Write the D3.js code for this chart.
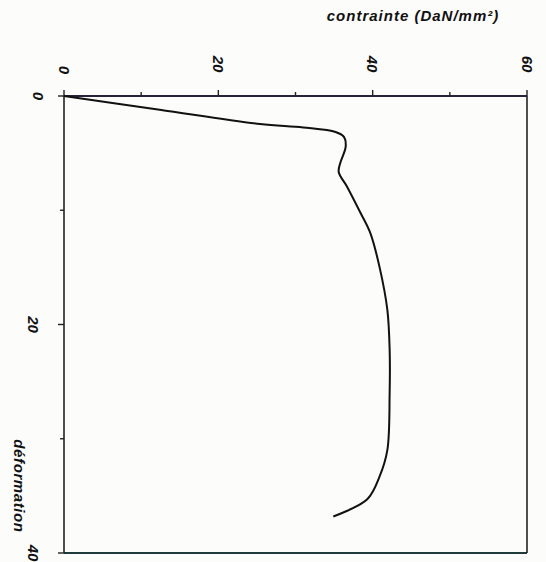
<!DOCTYPE html>
<html>
<head>
<meta charset="utf-8">
<script src="https://cdn.jsdelivr.net/npm/d3@7/dist/d3.min.js"></script>
<style>
  html, body { margin: 0; padding: 0; background: #fcfcfb; }
  svg { display: block; }
  .lbl { font-family: "Liberation Sans", Arial, sans-serif; font-weight: bold; font-style: italic; fill: #111; }
</style>
</head>
<body>
<div id="chart"></div>
<script>
// stress (DaN/mm²) vs strain
const contrainte = [0, 12.4, 25.4, 31.0, 35.2, 36.3, 36.5, 35.8, 35.6, 36.7, 38.4, 39.7, 40.9, 41.9, 42.2, 42.2, 41.9, 40.9, 39.3, 34.9];
const deformation = [0, 1.2, 2.45, 2.75, 3.15, 3.6, 4.46, 5.86, 6.65, 7.96, 10.2, 12.0, 15.0, 18.7, 22.2, 26.0, 31.0, 33.3, 35.3, 36.8];
const xMajor = [0, 20, 40, 60];
const xMinor = [10, 30, 50];
const yMajor = [0, 20, 40];
const yMinor = [10, 30];

const width = 546, height = 562;
const margin = {top: 96, right: 19, bottom: 9, left: 64};

const svg = d3.select("#chart").append("svg")
  .attr("width", width)
  .attr("height", height);

const x = d3.scaleLinear().domain([0, 60]).range([margin.left, width - margin.right]);
const y = d3.scaleLinear().domain([0, 40]).range([margin.top, height - margin.bottom]);

// frame
svg.append("line")
  .attr("x1", x(0)).attr("x2", x(60)).attr("y1", y(0)).attr("y2", y(0))
  .attr("stroke", "#2a2238").attr("stroke-width", 2);
svg.append("line")
  .attr("x1", x(0)).attr("x2", x(60)).attr("y1", y(40)).attr("y2", y(40))
  .attr("stroke", "#1f3a3a").attr("stroke-width", 2);
svg.append("line")
  .attr("x1", x(0)).attr("x2", x(0)).attr("y1", y(0)).attr("y2", y(40))
  .attr("stroke", "#222").attr("stroke-width", 1.6);
svg.append("line")
  .attr("x1", x(60)).attr("x2", x(60)).attr("y1", y(0)).attr("y2", y(40))
  .attr("stroke", "#222").attr("stroke-width", 1.6);

// top ticks
svg.selectAll("line.xtick")
  .data(xMajor.concat(xMinor))
  .join("line")
  .attr("class", "xtick")
  .attr("x1", (d) => x(d)).attr("x2", (d) => x(d))
  .attr("y1", y(0)).attr("y2", (d) => y(0) - (xMajor.includes(d) ? 6 : 4))
  .attr("stroke", "#222").attr("stroke-width", 1.4);

svg.selectAll("text.xlabel")
  .data(xMajor)
  .join("text")
  .attr("class", "lbl xlabel")
  .attr("transform", (d) => `translate(${x(d)},${d === 0 ? 70 : 64}) rotate(90)`)
  .attr("text-anchor", "middle")
  .attr("dominant-baseline", "central")
  .attr("font-size", 15)
  .text((d) => d);

// left ticks
svg.selectAll("line.ytick")
  .data(yMajor.concat(yMinor))
  .join("line")
  .attr("class", "ytick")
  .attr("y1", (d) => y(d)).attr("y2", (d) => y(d))
  .attr("x1", x(0)).attr("x2", (d) => x(0) - (yMajor.includes(d) ? 6 : 4))
  .attr("stroke", "#222").attr("stroke-width", 1.4);

svg.selectAll("text.ylabel")
  .data(yMajor)
  .join("text")
  .attr("class", "lbl ylabel")
  .attr("transform", (d) => `translate(${d === 0 ? 38 : 33},${y(d)}) rotate(90)`)
  .attr("text-anchor", "middle")
  .attr("dominant-baseline", "central")
  .attr("font-size", 15)
  .text((d) => d);

// axis titles
svg.append("text")
  .attr("class", "lbl")
  .attr("x", 413).attr("y", 21)
  .attr("text-anchor", "middle")
  .attr("font-size", 15)
  .attr("letter-spacing", 1)
  .text("contrainte  (DaN/mm²)");

svg.append("text")
  .attr("class", "lbl")
  .attr("transform", "translate(19,486) rotate(90)")
  .attr("text-anchor", "middle")
  .attr("dominant-baseline", "central")
  .attr("font-size", 15)
  .attr("letter-spacing", 0.6)
  .text("déformation");

// curve
const pts = contrainte.map((c, i) => [c, deformation[i]]);
const line = d3.line()
  .x((d) => x(d[0]))
  .y((d) => y(d[1]))
  .curve(d3.curveCatmullRom.alpha(0.5));

svg.append("path")
  .datum(pts)
  .attr("d", line)
  .attr("fill", "none")
  .attr("stroke", "#111")
  .attr("stroke-width", 2);
</script>
</body>
</html>
